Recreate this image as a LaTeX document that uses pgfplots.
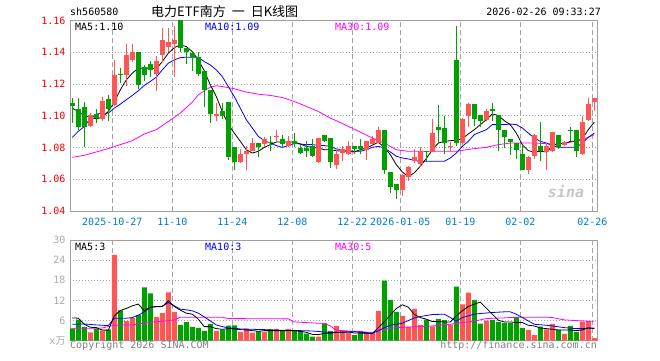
\documentclass[border=0pt]{standalone}
\usepackage{pgfplots}
\pgfplotsset{compat=1.18}
\usepackage{pgfplotstable}
\usepackage{fontspec}
\setmainfont{DejaVu Sans Mono}
\newfontfamily\cjk{Noto Sans CJK SC}
\definecolor{upred}{RGB}{255,85,85}
\definecolor{dngreen}{RGB}{0,160,0}
\definecolor{framec}{RGB}{160,160,160}
\definecolor{gridc}{RGB}{165,165,165}
\definecolor{datec}{RGB}{0,125,205}
\definecolor{ma10c}{RGB}{0,0,255}
\definecolor{ma30c}{RGB}{255,0,255}
\definecolor{volc}{RGB}{170,170,170}

% up (red) candles: index, open, high, low, close, volume (x10k)
\pgfplotstableread{
i o h l c v
3 1.0933 1.1019 1.0927 1.1006 2.5
5 1.0981 1.1115 1.0969 1.1094 3.1
7 1.1065 1.1352 1.1059 1.1258 25.6
9 1.1258 1.1450 1.1189 1.1383 5.8
10 1.1352 1.1450 1.1341 1.1400 6.7
14 1.1262 1.1377 1.1153 1.1348 7.0
15 1.1383 1.1551 1.1341 1.1477 8.2
16 1.1436 1.1551 1.1404 1.1463 14.4
17 1.1452 1.1565 1.1241 1.1477 8.5
24 1.1000 1.1080 1.0969 1.1013 2.9
28 1.0707 1.0791 1.0703 1.0761 2.6
29 1.0761 1.0807 1.0657 1.0780 3.6
30 1.0780 1.0860 1.0776 1.0830 2.4
32 1.0824 1.0864 1.0803 1.0853 2.6
34 1.0864 1.0912 1.0832 1.0874 3.5
36 1.0812 1.0874 1.0803 1.0843 3.5
41 1.0707 1.0862 1.0703 1.0860 1.2
44 1.0692 1.0786 1.0667 1.0761 4.4
45 1.0765 1.0812 1.0717 1.0791 3.1
46 1.0761 1.0843 1.0755 1.0812 2.4
49 1.0786 1.0843 1.0724 1.0843 2.3
50 1.0824 1.0870 1.0814 1.0856 2.3
51 1.0828 1.0929 1.0826 1.0912 8.9
55 1.0531 1.0630 1.0493 1.0629 7.4
56 1.0615 1.0682 1.0592 1.0678 4.1
57 1.0713 1.0793 1.0703 1.0740 9.5
58 1.0696 1.0801 1.0675 1.0780 4.7
60 1.0770 1.0979 1.0770 1.0891 4.3
63 1.0804 1.0832 1.0776 1.0810 4.7
65 1.0828 1.0983 1.0814 1.0981 10.8
66 1.0996 1.1078 1.0927 1.1076 14.3
69 1.0973 1.1042 1.0964 1.1033 6.0
76 1.0661 1.0745 1.0636 1.0740 3.2
77 1.0745 1.0882 1.0728 1.0881 1.7
79 1.0772 1.0828 1.0657 1.0807 3.4
80 1.0776 1.0897 1.0772 1.0895 5.0
82 1.0818 1.0843 1.0807 1.0832 2.0
85 1.0759 1.0996 1.0755 1.0958 5.7
86 1.0975 1.1111 1.0964 1.1076 5.8
87 1.1084 1.1111 1.1027 1.1111 0.8
}\upc

% down (green) candles
\pgfplotstableread{
i o h l c v
0 1.1080 1.1111 1.0954 1.1060 3.7
1 1.1044 1.1111 1.0912 1.0927 6.3
2 1.1057 1.1084 1.0801 1.0927 4.1
4 1.1011 1.1042 1.0954 1.0985 3.6
6 1.1107 1.1132 1.0969 1.1044 3.4
8 1.1264 1.1300 1.1205 1.1258 9.0
11 1.1400 1.1400 1.1170 1.1195 7.6
12 1.1310 1.1320 1.1216 1.1258 15.9
13 1.1327 1.1346 1.1243 1.1289 14.1
18 1.1610 1.1630 1.1400 1.1429 4.7
19 1.1429 1.1429 1.1325 1.1400 5.5
20 1.1398 1.1400 1.1279 1.1367 4.1
21 1.1373 1.1400 1.1253 1.1262 3.8
22 1.1283 1.1290 1.1052 1.1163 2.9
23 1.1163 1.1165 1.0954 1.1010 5.0
25 1.1031 1.1080 1.0982 1.0996 3.3
26 1.1084 1.1084 1.0724 1.0740 4.5
27 1.0803 1.0803 1.0659 1.0707 4.6
31 1.0830 1.0830 1.0738 1.0805 2.8
33 1.0834 1.0874 1.0776 1.0828 3.4
35 1.0853 1.0881 1.0803 1.0824 3.0
37 1.0843 1.0890 1.0803 1.0822 2.9
38 1.0795 1.0818 1.0759 1.0765 2.9
39 1.0797 1.0838 1.0738 1.0778 2.1
40 1.0807 1.0853 1.0738 1.0745 1.2
42 1.0881 1.0881 1.0832 1.0843 5.2
43 1.0860 1.0860 1.0671 1.0707 2.9
47 1.0812 1.0812 1.0759 1.0791 1.7
48 1.0812 1.0856 1.0761 1.0791 2.9
52 1.0912 1.0912 1.0630 1.0657 17.9
53 1.0644 1.0644 1.0514 1.0550 12.2
54 1.0573 1.0573 1.0477 1.0531 8.6
59 1.0777 1.0778 1.0713 1.0771 6.3
61 1.0929 1.1065 1.0828 1.0912 6.5
62 1.0923 1.0996 1.0759 1.0828 6.1
64 1.1352 1.1565 1.0807 1.0828 16.1
67 1.1076 1.1076 1.0937 1.0979 12.2
68 1.1006 1.1006 1.0927 1.0964 5.1
70 1.1042 1.1080 1.0969 1.1031 6.2
71 1.1006 1.1006 1.0776 1.0908 5.6
72 1.0908 1.0908 1.0797 1.0864 5.3
73 1.0856 1.0856 1.0755 1.0833 5.3
74 1.0828 1.0828 1.0728 1.0782 7.1
75 1.0761 1.0818 1.0657 1.0661 3.8
78 1.0807 1.0958 1.0713 1.0776 4.2
81 1.0881 1.0881 1.0793 1.0803 3.2
83 1.0913 1.0929 1.0839 1.0907 4.4
84 1.0912 1.0912 1.0738 1.0776 2.6
}\dnc

% price moving averages
\pgfplotstableread{
i v
0 1.1048
1 1.1027
2 1.1000
3 1.0990
4 1.0981
5 1.0990
6 1.1027
7 1.1086
8 1.1163
9 1.1226
10 1.1268
11 1.1300
12 1.1300
13 1.1300
14 1.1295
15 1.1341
16 1.1394
17 1.1429
18 1.1446
19 1.1436
20 1.1404
21 1.1352
22 1.1283
23 1.1195
24 1.1121
25 1.1027
26 1.0944
27 1.0891
28 1.0839
29 1.0786
30 1.0765
31 1.0776
32 1.0801
33 1.0818
34 1.0835
35 1.0835
36 1.0835
37 1.0835
38 1.0822
39 1.0807
40 1.0801
41 1.0797
42 1.0786
43 1.0786
44 1.0780
45 1.0776
46 1.0776
47 1.0772
48 1.0786
49 1.0797
50 1.0814
51 1.0833
52 1.0801
53 1.0755
54 1.0692
55 1.0646
56 1.0615
57 1.0640
58 1.0682
59 1.0730
60 1.0786
61 1.0828
62 1.0839
63 1.0843
64 1.0845
65 1.0856
66 1.0885
67 1.0912
68 1.0944
69 1.0975
70 1.1011
71 1.1002
72 1.0969
73 1.0944
74 1.0891
75 1.0818
76 1.0780
77 1.0772
78 1.0776
79 1.0772
80 1.0807
81 1.0828
82 1.0822
83 1.0839
84 1.0839
85 1.0856
86 1.0912
87 1.0960
}\mafive

\pgfplotstableread{
i v
0 1.0864
1 1.0902
2 1.0933
3 1.0981
4 1.1011
5 1.1015
6 1.1017
7 1.1048
8 1.1073
9 1.1101
10 1.1128
11 1.1157
12 1.1191
13 1.1216
14 1.1243
15 1.1289
16 1.1331
17 1.1352
18 1.1366
19 1.1369
20 1.1369
21 1.1369
22 1.1341
23 1.1320
24 1.1289
25 1.1247
26 1.1184
27 1.1121
28 1.1048
29 1.0975
30 1.0923
31 1.0870
32 1.0843
33 1.0828
34 1.0812
35 1.0801
36 1.0812
37 1.0826
38 1.0822
39 1.0818
40 1.0818
41 1.0814
42 1.0812
43 1.0807
44 1.0791
45 1.0786
46 1.0780
47 1.0776
48 1.0776
49 1.0786
50 1.0801
51 1.0807
52 1.0797
53 1.0772
54 1.0745
55 1.0734
56 1.0728
57 1.0719
58 1.0713
59 1.0713
60 1.0713
61 1.0713
62 1.0713
63 1.0734
64 1.0765
65 1.0807
66 1.0839
67 1.0881
68 1.0897
69 1.0912
70 1.0944
71 1.0944
72 1.0944
73 1.0948
74 1.0944
75 1.0923
76 1.0891
77 1.0860
78 1.0839
79 1.0828
80 1.0812
81 1.0801
82 1.0801
83 1.0801
84 1.0801
85 1.0828
86 1.0864
87 1.0891
}\maten

\pgfplotstableread{
i v
0 1.0738
2 1.0751
4 1.0772
6 1.0793
8 1.0818
10 1.0843
12 1.0885
14 1.0912
16 1.0964
18 1.1017
20 1.1086
21 1.1132
22 1.1157
23 1.1180
24 1.1189
25 1.1184
27 1.1170
29 1.1149
31 1.1136
33 1.1128
35 1.1115
37 1.1090
39 1.1059
41 1.1027
43 1.0985
44 1.0969
46 1.0933
48 1.0897
50 1.0860
52 1.0828
54 1.0786
56 1.0776
58 1.0776
60 1.0776
62 1.0776
64 1.0776
65 1.0782
67 1.0793
69 1.0801
71 1.0818
73 1.0828
75 1.0828
77 1.0828
79 1.0824
81 1.0822
83 1.0833
85 1.0849
87 1.0881
}\mathirty

% volume moving averages
\pgfplotstableread{
i v
0 6.8
1 6.7
2 4.9
3 4.0
4 3.9
5 3.2
6 3.1
7 7.4
8 9.0
9 9.6
10 10.4
11 10.9
12 8.9
13 10.0
14 10.2
15 10.2
16 11.9
17 10.2
18 9.1
19 8.2
20 7.9
21 6.4
22 4.2
23 4.2
24 3.6
25 3.4
26 3.6
27 3.5
28 3.3
29 3.2
30 3.0
31 2.8
32 3.0
33 3.0
34 3.0
35 3.0
36 3.0
37 3.0
38 2.8
39 2.5
40 1.9
41 1.8
42 2.2
43 2.2
44 2.5
45 2.4
46 2.6
47 2.3
48 2.3
49 2.2
50 2.1
51 3.9
52 5.6
53 7.6
54 9.6
55 10.7
56 10.0
57 7.8
58 6.9
59 6.4
60 5.7
61 5.7
62 5.6
63 5.6
64 7.4
65 8.9
66 10.2
67 10.9
68 11.5
69 9.7
70 7.9
71 6.1
72 5.6
73 5.6
74 5.4
75 5.4
76 4.6
77 4.4
78 3.8
79 3.6
80 3.4
81 3.2
82 3.2
83 3.2
84 3.0
85 3.2
86 3.8
87 3.6
}\vmafive

\pgfplotstableread{
i v
0 4.9
2 5.0
4 4.7
6 4.5
7 6.7
9 6.7
10 6.9
11 7.6
12 8.6
13 9.9
14 10.1
15 10.2
16 11.4
17 10.4
18 9.4
19 9.2
20 8.9
21 8.2
22 7.1
23 5.9
24 4.7
25 4.2
26 3.8
27 3.7
28 3.5
30 3.4
32 3.3
35 3.1
38 3.0
40 2.9
42 2.6
43 2.4
45 2.6
47 2.7
49 2.4
50 2.2
51 2.9
52 3.9
53 4.6
55 5.2
57 6.8
58 7.2
60 7.8
62 7.9
63 6.9
64 5.8
65 6.9
66 7.4
67 7.9
68 8.1
70 8.4
72 8.6
73 8.6
74 7.9
75 6.9
76 5.9
77 4.9
79 4.6
80 4.4
82 3.9
84 3.6
85 3.6
86 3.8
87 3.8
}\vmaten

\pgfplotstableread{
i v
0 3.7
3 3.7
5 3.8
7 4.6
10 4.7
13 5.5
15 5.8
17 6.2
18 7.0
25 7.0
26 6.6
36 6.5
37 5.6
41 5.2
42 5.2
43 4.4
44 3.1
48 2.7
50 2.4
51 3.2
54 3.9
58 4.2
60 4.4
63 4.9
64 5.2
66 5.6
68 6.2
69 6.6
72 6.8
74 7.0
76 7.0
79 7.0
80 6.9
82 6.2
84 6.0
86 5.8
87 5.8
}\vmathirty

\pgfplotsset{
  kbase/.style={
    scale only axis, width=527.7pt,
    xmin=-0.383, xmax=87.57,
    axis line style={framec, line width=1pt},
    major tick length=0pt,
    xtick={6.67,16.67,26.67,36.67,46.67,54.67,64.67,74.67,86.67},
    xmajorgrids, ymajorgrids,
    x grid style={gridc, line width=0.8pt, dash pattern=on 5pt off 3pt},
    y grid style={gridc, line width=0.8pt, dash pattern=on 1pt off 2pt},
    ticklabel style={font=\fontsize{10}{12}\selectfont},
    /pgf/number format/assume math mode=true,
    yticklabel style={anchor=east, inner sep=0pt, xshift=-4.3pt},
  },
  wick/.style={draw=none, mark=none, forget plot,
    error bars/.cd, y dir=plus, y explicit, error mark=none,
    error bar style={draw=#1, line width=1pt}},
  body/.style={draw=none, mark=none, forget plot,
    error bars/.cd, y dir=plus, y explicit, error mark=none,
    error bar style={draw=#1, line width=5pt}},
}

\begin{document}
\begin{tikzpicture}
\path[use as bounding box] (0,0) rectangle (660pt,360pt);

% ---------- price panel ----------
\begin{axis}[kbase, at={(70pt,149pt)}, anchor=south west, height=190.5pt,
  ymin=1.04, ymax=1.16,
  ytick={1.04,1.06,1.08,1.10,1.12,1.14,1.16},
  yticklabel style={text=red, /pgf/number format/.cd, fixed, fixed zerofill, precision=2},
  xticklabels={2025-10-27,11-10,11-24,12-08,12-22,2026-01-05,01-19,02-02,02-26},
  xticklabel style={text=datec, anchor=north, inner sep=0pt, yshift=-6.5pt},
]
\addplot[ma30c, line width=0.8pt, mark=none] table[x=i,y=v]{\mathirty};
\addplot[ma10c, line width=0.8pt, mark=none] table[x=i,y=v]{\maten};
\addplot[black, line width=0.8pt, mark=none] table[x=i,y=v]{\mafive};
\addplot[wick=upred] table[x=i, y=l, y error plus expr=\thisrow{h}-\thisrow{l}]{\upc};
\addplot[body=upred] table[x=i, y=o, y error plus expr=\thisrow{c}-\thisrow{o}]{\upc};
\addplot[wick=dngreen] table[x=i, y=l, y error plus expr=\thisrow{h}-\thisrow{l}]{\dnc};
\addplot[body=dngreen] table[x=i, y=c, y error plus expr=\thisrow{o}-\thisrow{c}]{\dnc};
\end{axis}

% ---------- volume panel ----------
\begin{axis}[kbase, at={(70pt,19.3pt)}, anchor=south west, height=100.7pt,
  ymin=0, ymax=30,
  ytick={0,6,12,18,24,30},
  yticklabels={{x{\cjk 万}},6,12,18,24,30},
  yticklabel style={text=volc},
  xticklabels={},
]
\addplot[ybar, bar width=5pt, bar shift=0pt, fill=upred, draw=none, forget plot] table[x=i,y=v]{\upc};
\addplot[ybar, bar width=5pt, bar shift=0pt, fill=dngreen, draw=none, forget plot] table[x=i,y=v]{\dnc};
\addplot[ma30c, line width=0.8pt, mark=none] table[x=i,y=v]{\vmathirty};
\addplot[ma10c, line width=0.8pt, mark=none] table[x=i,y=v]{\vmaten};
\addplot[black, line width=0.8pt, mark=none] table[x=i,y=v]{\vmafive};
\end{axis}

% ---------- texts ----------
\begin{scope}[every node/.style={inner sep=0pt, font=\fontsize{10}{12}\selectfont}]
\node[anchor=west] at (70pt,348pt) {sh560580};
\node[anchor=west, font=\cjk\fontsize{13}{15}\selectfont] at (151pt,348pt) {电力ETF南方\hspace{6pt}一\hspace{6pt}日K线图};
\node[anchor=east] at (601pt,348pt) {2026-02-26 09:33:27};
\node[anchor=west] at (75pt,333.3pt) {MA5:1.10};
\node[anchor=west, text=ma10c] at (205pt,333.3pt) {MA10:1.09};
\node[anchor=west, text=ma30c] at (335pt,333.3pt) {MA30:1.09};
\node[anchor=west] at (75pt,113.3pt) {MA5:3};
\node[anchor=west, text=ma10c] at (205pt,113.3pt) {MA10:3};
\node[anchor=west, text=ma30c] at (335pt,113.3pt) {MA30:5};
\node[anchor=west, text=gray] at (70pt,14.3pt) {Copyright 2026 SINA.COM};
\node[anchor=east, text=gray] at (597pt,14.3pt) {http://finance.sina.com.cn};
\node[text=gray!45, font=\bfseries\itshape\fontsize{15}{15}\selectfont] at (566pt,168pt) {sina};
\end{scope}
\end{tikzpicture}
\end{document}
